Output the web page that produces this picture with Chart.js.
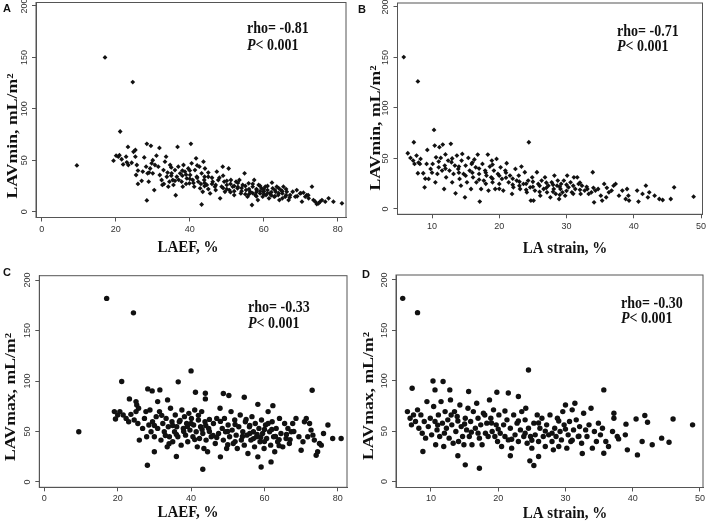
<!DOCTYPE html>
<html><head><meta charset="utf-8">
<script src="https://cdn.jsdelivr.net/npm/chart.js@4"></script>
<style>
html,body{margin:0;padding:0;background:#fff;}
#wrap{position:relative;width:709px;height:524px;overflow:hidden;background:#fff;}
canvas{position:absolute;}
</style></head><body>
<div id="wrap">
<canvas id="cA" width="354" height="262" style="left:0px;top:0px;width:354px;height:262px"></canvas>
<canvas id="cB" width="355" height="262" style="left:354px;top:0px;width:355px;height:262px"></canvas>
<canvas id="cC" width="354" height="262" style="left:0px;top:262px;width:354px;height:262px"></canvas>
<canvas id="cD" width="355" height="262" style="left:354px;top:262px;width:355px;height:262px"></canvas>
</div>
<script>
// ---- tick labels ----
const laefTicks = [0, 20, 40, 60, 80];
const strainTicks = [10, 20, 30, 40, 50];
const volumeTicks = [0, 50, 100, 150, 200];

// ---- panel texts ----
const panelLetters = ['A', 'B', 'C', 'D'];
const xTitles = ['LAEF, %', 'LA strain, %', 'LAEF, %', 'LA strain, %'];
const yTitles = ['LAVmin, mL/m²', 'LAVmin, mL/m²', 'LAVmax, mL/m²', 'LAVmax, mL/m²'];
const rhoTexts = ['rho= -0.81', 'rho= -0.71', 'rho= -0.33', 'rho= -0.30'];
const pTexts = ['< 0.001', '< 0.001', '< 0.001', '< 0.001'];

// ---- A: LAEF (%) vs LAVmin (mL/m²) ----
const laefVsLavmin = [
[17.1,150],[24.6,126],[9.5,45],[21.2,78],[28.4,66],[29.5,64],[23.3,63],[31.8,62],[36.7,63],[40.3,66],[43.2,7],[28.4,11],[30.4,21],[36.2,16],
[19.4,49.6],[20.1,54.5],[20.7,53.5],[21.6,51],[22,46],[22.8,53.5],[23.4,45.4],[24.3,47.6],[24.8,58.3],[25.3,60],[25.3,53.5],[25.5,35.7],[25.7,45.4],[26,27],[27.3,39],[27.7,52.8],[28.2,43.8],[28.6,37.3],[28.9,29.2],[29.3,42],[29.7,47],[30,37.3],[30.6,45.4],[31,54.5],[31.5,43.8],[31.9,35.7],[32.4,30.8],[32.6,26],[32.9,40.5],[33.3,48.6],[33.6,53.5],[33.8,34],[34.2,24.3],[34.5,29.2],[34.7,45.4],[35.1,37.3],[35.4,30.8],[35.6,26],[36,40.5],[36.5,34],[36.9,43.8],[37.4,37.3],[37.8,29.2],[38.1,24.3],[38.3,45.4],[38.7,38.9],[39.2,32.4],[39.6,42],[39.9,27.6],[40.1,35.7],[40.5,47],[40.8,30.8],[41.2,24.3],[41.4,40.5],[41.7,51.9],[41.9,34],[42.3,29.2],[42.6,43.8],[42.8,22.7],[43.2,37.3],[43.5,19.4],[43.7,48.6],[43.9,30.8],[44.1,42],[44.6,26],[45,34],[45.5,17.8],[46.2,29.2],[46.8,24.3],[47.3,38.9],[47.7,30.8],[48.2,13],[48.6,24.3],[48.9,43.8],[49.3,29.2],[49.5,19.4],[50,26],[50.5,42],[50.7,21],[51.1,30.8],[51.6,24.3],[52,16.2],[52.5,29.2],[52.9,22.7],[53.4,30.8],[53.8,17.8],[54.3,26],[54.8,37.3],[55.2,21],[55.6,14.6],[55.9,27.6],[56.3,19.4],[56.8,6.5],[57,24.3],[57.4,30.8],[57.7,16.2],[58.1,21],[58.4,11.3],[58.6,26],[59,17.8],[59.4,22.7],[59.7,14.6],[59.9,19.4],[60.4,24.3],[60.6,16.2],[61,21],[61.4,13],[61.7,17.8],[62.2,28.2],[62.4,22.7],[62.8,14.6],[63.2,19.4],[63.5,24.3],[63.9,16.2],[64.2,11.3],[64.6,21],[65,17.8],[65.3,24.3],[65.8,14.6],[66.2,19.4],[66.7,11.3],[67.1,16.2],[67.8,19.4],[68.5,14.6],[68.9,21],[69.8,17.8],[70.3,9.7],[70.7,18.5],[71.2,14.6],[71.6,16.2],[72.1,13],[73,24.3],[73.4,11.3],[73.9,9.7],[74.3,7.5],[74.8,8.1],[75.2,9.7],[75.7,11.3],[76.6,9.7],[77.5,13],[78.8,9.7],[81.1,8.1],
[33,27],[34,38],[35,43],[37,31],[38,35],[39,27],[40,40],[41,28],[42,33],[44,25],[46,27],[47,21],[48,33],[50,22],[51,27],[53,24],[54,20],[56,22],[57,18],[58,15],[59,25],[60,20],[61,18],[62,16],[63,21],[64,18],[65,13],[66,22],[67,14],[69,15],[70,18],[72,16],[27,30],[29,38],[30,50],[23,48],[26,40],[21,55],
[44,28],[45,22],[46,33],[47,26],[49,23],[50,30],[51,19],[52,25],[53,28],[54,23],[55,25],[56,17],[57,27],[58,22],[59,20],[60,17],[61,25],[62,19],[63,15],[64,23],[65,20],[66,16],[60,22],[58,19],[55,17],[52,20],[49,35],[45,38],[43,27],[40,32],[38,40],[36,30],[35,35],[42,45],[39,36],[44,34]
];

// ---- B: LA strain (%) vs LAVmin (mL/m²) ----
const strainVsLavmin = [
[5.8,150.4],[7.9,126.3],[10.3,78.3],[7.3,66.1],[6.4,55.2],[24.4,66.1],
[6.8,50.6],[7.2,47.9],[7.4,44.6],[7.7,52.9],[7.9,35.4],[8.2,44.6],[8.3,49.6],[8.7,35.4],[8.9,21.5],[9.2,44.6],[9.3,58.5],[9.5,29.8],[9.8,39.7],[10.1,44.6],[10.4,62.8],[10.5,26.4],[10.6,51.2],[10.8,34.7],[11,41.3],[11.1,61.2],[11.3,50.6],[11.5,38],[11.6,63.8],[11.8,19.8],[11.9,43],[12.1,31.4],[12.4,47.9],[12.6,38],[12.8,64.5],[12.9,46.3],[13,26.4],[13.2,34.7],[13.4,43],[13.5,15.5],[13.7,52.9],[13.9,39.7],[14.1,29.8],[14.3,23.1],[14.4,47.9],[14.5,54.5],[14.7,34.7],[14.9,11.6],[15,43],[15.2,26.4],[15.4,50.6],[15.6,38],[15.8,19.8],[15.9,44.6],[16.1,31.4],[16.3,49],[16.5,41.3],[16.6,26.4],[16.8,53.9],[17,34.7],[17.1,7.3],[17.3,19.8],[17.5,44.6],[17.7,28.1],[17.9,38],[18.1,33.1],[18.3,53.9],[18.4,18.2],[18.6,42],[18.8,31.4],[18.9,47.9],[19,26.4],[19.2,38],[19.4,19.8],[19.6,49.6],[19.8,34.7],[20,24.8],[20.2,41.3],[20.4,29.8],[20.6,18.2],[20.9,38],[21.1,45.3],[21.4,26.4],[21.6,33.1],[21.9,14.9],[22.1,21.5],[22.4,39.7],[22.6,28.1],[22.9,33.1],[23.1,19.8],[23.3,42],[23.6,24.8],[23.8,36.4],[24.1,16.5],[24.3,28.1],[24.6,21.5],[24.7,8.3],[24.9,31.4],[25.1,8.3],[25.3,18.2],[25.6,36.4],[25.8,24.8],[26.1,13.2],[26.3,28.1],[26.6,19.8],[26.8,31.4],[27.1,16.5],[27.3,23.1],[27.6,11.6],[27.8,26.4],[28.1,19.8],[28.2,33.1],[28.4,14.9],[28.6,23.1],[28.7,28.1],[28.9,9.9],[29.1,19.8],[29.2,24.8],[29.4,16.5],[29.6,28.1],[29.8,13.2],[30.1,33.1],[30.3,21.5],[30.6,26.4],[30.8,16.5],[31.1,31.4],[31.3,19.8],[31.6,31.4],[31.8,24.8],[32.1,14.9],[32.3,23.1],[32.7,18.2],[33.1,19.8],[33.3,14.9],[33.7,16.5],[33.9,36.4],[34.1,6.6],[34.3,18.2],[34.7,19.8],[35.1,13.2],[35.3,8.3],[35.6,24.8],[35.9,11.6],[36.3,16.5],[36.7,18.2],[37,23.1],[37.3,24.8],[37.8,13.2],[38.3,18.2],[38.8,9.9],[39,19.8],[39.2,13.2],[39.3,8.3],[40.5,18.2],[40.7,7.3],[41.3,14.9],[41.8,23.1],[42.1,11.6],[42.3,16.5],[43.1,13.2],[43.8,9.9],[44.3,8.9],[45.5,9.9],[46,21.5],[48.9,12.2],
[16,36],[17,40],[18,25],[19,30],[20,20],[21,31],[22,24],[23,27],[24,19],[25,22],[26,17],[27,21],[28,17],[29,22],[30,18],[31,23],[32,19],[12,54],[14,36],[10,36],[9,30],[8,46],
[15,33],[16,46],[17,29],[18,36],[19,44],[20,33],[21,36],[22,30],[23,23],[24,25],[25,27],[26,23],[27,26],[28,24],[29,14],[30,24],[31,15],[32,26],[33,22],[34,21],[36,21],[12,40],[13,50],[11,47],[14,42]
];

// ---- C: LAEF (%) vs LAVmax (mL/m²) ----
const laefVsLavmax = [
[17,181.8],[24.3,167.5],[9.4,49.8],[21.1,99.5],[40,110],[36.5,99.2],[73,90.9],[28.1,16.6],[43.2,12.6],[59.1,14.9],[61.8,19.9],[36,25.2],[48,24.9],[30,29.9],[25.9,41.5],[28.2,92.2],[29.4,90.2],[31.5,91.2],[23.2,82.3],[25,79.6],[25.2,76.3],[30.9,79.6],[33.6,81.3],[41.2,88.9],[43.9,87.9],[43.9,82.3],[48.8,87.6],[50.3,85.6],[54.5,83.9],[58.2,76.9],[62.3,75.6],
[19.1,69.7],[20,66.3],[19.4,62.4],[20.6,69.7],[21.5,66.3],[22.3,63],[23,59.7],[23.6,67],[24.5,61.4],[25,69.7],[25.7,73],[25.5,58],[26.8,53.1],[27.3,63],[27.7,69.7],[27.9,44.8],[28.5,56.4],[28.8,71.3],[29.1,49.8],[29.5,59.7],[30,44.8],[30.5,64.7],[30.9,53.1],[31.4,69.7],[31.8,41.5],[32.3,58],[32.7,49.8],[33.2,63],[33.5,34.8],[33.8,54.7],[34.1,44.8],[34.4,73],[34.8,59.7],[35,39.8],[35.5,49.8],[35.7,66.3],[36.1,54.7],[36.4,44.8],[36.8,59.7],[37.3,36.5],[37.5,71.3],[37.9,53.1],[38.2,64.7],[38.5,46.4],[38.8,58],[39.1,39.8],[39.4,68],[39.7,51.4],[40.1,63],[40.5,44.8],[40.7,56.4],[41,71.3],[41.4,49.8],[41.7,34.8],[42,61.4],[42.3,43.1],[42.6,54.7],[42.9,69.7],[43.2,48.1],[43.5,33.2],[43.8,59.7],[44.1,41.5],[44.5,29.9],[44.8,53.1],[45.5,44.8],[46.1,58],[46.6,38.1],[47,63],[47.5,48.1],[47.9,73],[48.5,53.1],[48.8,41.5],[49.1,63],[49.4,49.8],[49.7,33.2],[50.1,56.4],[50.5,44.8],[50.9,69.7],[51.2,51.4],[51.5,38.1],[51.9,61.4],[52.3,46.4],[52.6,33.2],[53,54.7],[53.4,66.3],[53.7,41.5],[54.1,49.8],[54.5,36.5],[54.8,59.7],[55.2,46.4],[55.5,28.2],[55.9,54.7],[56.3,41.5],[56.6,64.7],[57,49.8],[57.3,34.8],[57.5,58],[57.9,44.8],[58.2,24.9],[58.5,53.1],[58.8,39.8],[59.2,61.4],[59.5,48.1],[59.9,33.2],[60.3,56.4],[60.6,43.1],[61,69.7],[61.4,49.8],[61.7,36.5],[62.1,59.7],[62.5,44.8],[62.8,29.9],[63.2,53.1],[63.6,39.8],[64.1,63],[64.5,48.1],[65,34.8],[65.5,58],[65.9,43.1],[66.4,53.1],[66.8,38.1],[67.3,49.8],[67.7,58],[68.6,63],[69.4,44.8],[70,31.5],[70.5,39.8],[70.9,59.7],[71.4,63],[71.8,44.8],[72.3,58],[72.7,51.4],[73.2,46.4],[73.6,41.5],[74.1,26.5],[74.5,29.9],[75,38.1],[75.5,36.5],[76.1,48.1],[77.3,56.4],[78.6,43.1],[80.9,43.1],
[34,38],[36,47],[39,55],[41,42],[45,50],[52,40],[56,48],[59,44],[60,52],[63,45],[64,36],[67,42],[50,37],[47,44],[38,50],[33,46],
[40,58],[42,66],[44,56],[46,46],[48,60],[50,50],[52,57],[54,45],[56,56],[58,47],[60,40],[62,52],[64,42],[66,47],[68,50],[45,62],[43,52],[37,61],[35,56],[32,66],[30,56],[55,62],[61,58],[57,43]
];

// ---- D: LA strain (%) vs LAVmax (mL/m²) ----
const strainVsLavmax = [
[5.8,181.8],[8,167.6],[24.5,110.7],[35.7,90.9],[7.2,92.6],[10.3,99.8],[11.8,99.2],[10.6,90.9],[12.8,90.9],[15.6,89.3],[19.8,88.6],[21.5,87.9],[23,84.3],[8.8,29.8],[14,25.5],[15.1,16.5],[17.2,13.2],[21.8,25.5],[24.7,20.5],[25.3,15.9],[26,24.8],[32.5,27.8],[35.7,28.1],[40.7,26.4],[48.9,56.2],[46,62.1],[40.5,62.1],[41.8,65.5],[42.2,58.8],[41.4,39.7],[42.9,36.4],[44.3,43],[45.4,39],[39,56.9],[38.9,46.3],[39.2,31.4],[37.2,67.8],[37.2,62.8],[37,49.6],[36.4,34.7],[37.9,42.3],[37.7,44.6],[34.9,57.9],[33.8,72.7],[35.2,46.3],[34,33.1],
[6.5,69.4],[6.9,62.8],[7.1,56.2],[7.4,66.1],[7.7,59.5],[8,71.1],[8.2,52.9],[8.5,66.1],[8.7,47.9],[9,59.5],[9.2,43],[9.4,79.3],[9.6,54.5],[9.9,62.8],[10.1,46.3],[10.4,74.4],[10.6,59.5],[10.7,36.4],[10.9,51.2],[11.1,66.1],[11.3,44.6],[11.5,79.3],[11.7,57.9],[11.9,34.7],[12.1,69.4],[12.3,52.9],[12.5,61.2],[12.7,43],[12.9,81],[13.1,56.2],[13.3,38],[13.5,69.4],[13.7,49.6],[13.9,64.5],[14.1,39.7],[14.3,76],[14.5,54.5],[14.7,44.6],[14.9,36.4],[15.1,62.8],[15.3,51.2],[15.5,72.7],[15.7,44.6],[15.9,59.5],[16.1,36.4],[16.3,69.4],[16.6,52.9],[16.8,77.7],[17,62.8],[17.2,43],[17.4,56.2],[17.6,36.4],[17.8,67.8],[18.1,47.9],[18.3,57.9],[18.5,44.6],[18.7,81],[18.9,62.8],[19.1,49.6],[19.3,71.1],[19.5,44.6],[19.7,56.2],[19.9,39.7],[20.1,66.1],[20.3,47.9],[20.5,34.7],[20.8,56.2],[21,44.6],[21.3,61.2],[21.5,41.3],[21.8,52.9],[22,33.1],[22.3,66.1],[22.5,46.3],[22.8,57.9],[23,39.7],[23.3,51.2],[23.5,69.4],[23.8,44.6],[24,61.2],[24.1,72.7],[24.3,38],[24.5,52.9],[24.8,44.6],[25,33.1],[25.3,57.9],[25.5,46.3],[25.8,66.1],[26,39.7],[26.2,52.9],[26.5,62.8],[26.7,44.6],[27,34.7],[27.2,56.2],[27.5,46.3],[27.7,66.1],[28,39.7],[28.2,31.4],[28.4,52.9],[28.6,44.6],[28.8,62.8],[29,34.7],[29.2,49.6],[29.4,41.3],[29.6,69.4],[29.8,56.2],[30,76],[30.2,33.1],[30.4,46.3],[30.6,59.5],[30.8,39.7],[31,71.1],[31.2,51.2],[31.4,77.7],[31.6,61.2],[31.9,44.6],[32.1,54.5],[32.4,38],[32.7,67.8],[33,51.2],[33.2,44.6],[33.5,56.2],[34.3,49.6],[34.6,39.7],[36,39.7],[35.5,52.9],
[12,48],[14,60],[16,49],[18,66],[20,52],[22,42],[24,48],[26,58],[28,48],[30,52],[32,45],[19,58],[21,70],[23,60],[25,41],[27,50],[29,60],[13,66],[15,57],[17,48],[31,41],[11,56]
];

// ---------------------------------------------------------------
const INK = '#111';
const AXIS = '#555';

const framePlugin = {
  id: 'frame',
  afterDatasetsDraw(chart) {
    const {ctx, chartArea: a} = chart;
    ctx.save();
    ctx.strokeStyle = AXIS; ctx.lineWidth = 1;
    ctx.strokeRect(a.left, a.top, a.right - a.left, a.bottom - a.top);
    ctx.restore();
  }
};

function stretchedText(ctx, text, x, y, font, align, sy, rotate) {
  ctx.save();
  ctx.translate(x, y);
  if (rotate) { ctx.rotate(-Math.PI / 2); ctx.scale(sy, 1); } else { ctx.scale(1, sy); }
  ctx.font = font; ctx.textAlign = align; ctx.textBaseline = 'alphabetic';
  ctx.fillStyle = INK;
  ctx.fillText(text, 0, 0);
  ctx.restore();
}

const textPlugin = {
  id: 'panelText',
  afterDraw(chart, args, o) {
    const ctx = chart.ctx;
    ctx.save();
    ctx.font = 'bold 11px "Liberation Sans"'; ctx.fillStyle = INK;
    ctx.textAlign = 'left'; ctx.textBaseline = 'alphabetic';
    ctx.fillText(o.letter, o.letterX, o.letterY);
    ctx.restore();
    stretchedText(ctx, o.xTitle, o.xTitleX, o.xTitleY, 'bold 15px "Liberation Serif"', 'center', 1.18, false);
    stretchedText(ctx, o.yTitle, o.yTitleX, o.yTitleY, 'bold 15px "Liberation Serif"', 'center', 1.18, true);
    stretchedText(ctx, o.rho, o.rhoX, o.rhoY, 'bold 14px "Liberation Serif"', 'left', 1.12, false);
    ctx.save();
    ctx.font = 'italic bold 14px "Liberation Serif"';
    const pw = ctx.measureText('P').width;
    ctx.restore();
    stretchedText(ctx, 'P', o.rhoX, o.pY, 'italic bold 14px "Liberation Serif"', 'left', 1.12, false);
    stretchedText(ctx, o.p, o.rhoX + pw, o.pY, 'bold 14px "Liberation Serif"', 'left', 1.12, false);
  }
};

function makePanel(id, idx, points, L) {
  const fixTicks = vals => (s => { s.ticks = vals.map(v => ({value: v})); });
  new Chart(document.getElementById(id), {
    type: 'scatter',
    data: {
      datasets: [{
        data: points.map(p => ({x: p[0], y: p[1]})),
        backgroundColor: INK, borderColor: INK, borderWidth: 0,
        pointStyle: L.pointStyle, pointRadius: L.radius, pointHoverRadius: L.radius
      }]
    },
    options: {
      responsive: false, animation: false, events: [],
      layout: { autoPadding: false, padding: { left: 0, top: L.top, right: L.right, bottom: 0 } },
      plugins: {
        legend: { display: false }, tooltip: { enabled: false }, title: { display: false },
        panelText: {
          letter: panelLetters[idx], letterX: L.letterX, letterY: L.letterY,
          xTitle: xTitles[idx], xTitleX: L.xTitleX, xTitleY: L.xTitleY,
          yTitle: yTitles[idx], yTitleX: L.yTitleX, yTitleY: L.yTitleY,
          rho: rhoTexts[idx], p: pTexts[idx], rhoX: L.rhoX, rhoY: L.rhoY, pY: L.pY
        }
      },
      scales: {
        x: {
          type: 'linear', position: 'bottom', min: L.xMin, max: L.xMax,
          afterBuildTicks: fixTicks(L.xTicks),
          afterFit: s => { s.height = L.xAxisH; s.paddingLeft = 0; s.paddingRight = 0; s.paddingTop = 0; s.paddingBottom = 0; },
          grid: { display: true, drawOnChartArea: false, drawTicks: true, tickLength: 4, color: AXIS, lineWidth: 1 },
          border: { display: true, color: AXIS, width: 1 },
          ticks: { autoSkip: false, minRotation: 0, maxRotation: 0, padding: L.xTickPad, color: '#333', font: { family: 'Liberation Sans', size: 9 } },
          title: { display: false }
        },
        y: {
          type: 'linear', position: 'left', min: L.yMin, max: L.yMax,
          afterBuildTicks: fixTicks(volumeTicks),
          afterFit: s => { s.width = L.yAxisW; s.paddingLeft = 0; s.paddingRight = 0; s.paddingTop = 0; s.paddingBottom = 0; },
          grid: { display: true, drawOnChartArea: false, drawTicks: true, tickLength: 4, color: AXIS, lineWidth: 1 },
          border: { display: true, color: AXIS, width: 1 },
          ticks: { autoSkip: false, minRotation: 90, maxRotation: 90, crossAlign: 'center', padding: 0, color: '#333', font: { family: 'Liberation Sans', size: 9 } },
          title: { display: false }
        }
      }
    },
    plugins: [framePlugin, textPlugin]
  });
}

makePanel('cA', 0, laefVsLavmin, {
  xMin: -1.54, xMax: 82.2, yMin: -5.64, yMax: 203.4, xTicks: laefTicks,
  top: 2.5, right: 8, yAxisW: 36, xAxisH: 44.5, xTickPad: 3,
  pointStyle: 'rectRot', radius: 2.4,
  letterX: 3, letterY: 12, xTitleX: 188, xTitleY: 252, yTitleX: 17, yTitleY: 136,
  rhoX: 247, rhoY: 32.5, pY: 49.5
});
makePanel('cB', 1, strainVsLavmin, {
  xMin: 4.87, xMax: 50.22, yMin: -5.25, yMax: 203.96, xTicks: strainTicks,
  top: 3, right: 6.5, yAxisW: 43.5, xAxisH: 47.7, xTickPad: 3,
  pointStyle: 'rectRot', radius: 2.4,
  letterX: 4, letterY: 13, xTitleX: 211, xTitleY: 253, yTitleX: 26, yTitleY: 128,
  rhoX: 263, rhoY: 36, pY: 51
});
makePanel('cC', 2, laefVsLavmax, {
  xMin: -1.36, xMax: 82.5, yMin: -5.25, yMax: 204.3, xTicks: laefTicks,
  top: 13.7, right: 7, yAxisW: 39.3, xAxisH: 36.7, xTickPad: 2,
  pointStyle: 'circle', radius: 2.7,
  letterX: 3, letterY: 14, xTitleX: 188, xTitleY: 255, yTitleX: 15, yTitleY: 135,
  rhoX: 248, rhoY: 50.3, pY: 65.7
});
makePanel('cD', 3, strainVsLavmax, {
  xMin: 4.8, xMax: 50.45, yMin: -5.96, yMax: 204.96, xTicks: strainTicks,
  top: 13, right: 6, yAxisW: 42, xAxisH: 36.5, xTickPad: 2,
  pointStyle: 'circle', radius: 2.7,
  letterX: 8, letterY: 16, xTitleX: 211, xTitleY: 256, yTitleX: 19, yTitleY: 134,
  rhoX: 267, rhoY: 46.3, pY: 61.3
});
</script>
</body></html>
